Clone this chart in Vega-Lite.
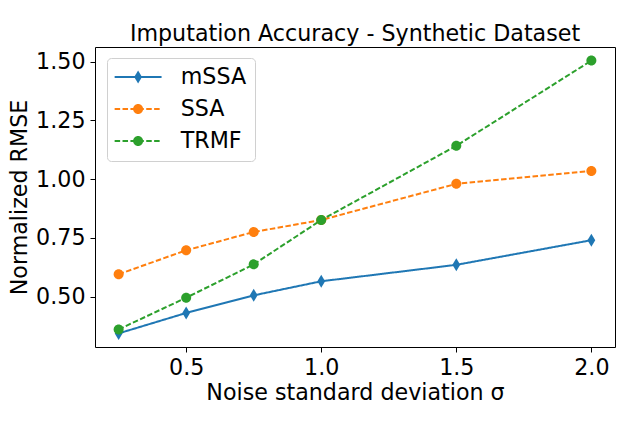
{
  "$schema": "https://vega.github.io/schema/vega-lite/v6.json",
  "autosize": {"type": "none"},
  "width": 520,
  "height": 300,
  "padding": {"left": 95, "top": 47, "right": 25, "bottom": 79},
  "background": "white",
  "config": {
    "font": "DejaVu Sans",
    "view": {"stroke": "black", "strokeWidth": 1},
    "axis": {"grid": false, "domain": false, "tickColor": "black", "tickSize": 5, "labelColor": "black", "titleColor": "black", "labelFontSize": 22.2, "titleFontSize": 22.2, "titleFontWeight": "normal", "labelPadding": 4}
  },
  "title": {"text": "Imputation Accuracy - Synthetic Dataset", "fontSize": 22.2, "fontWeight": "normal", "color": "black", "offset": 2},
  "data": {"values": [
    {"sigma": 0.25, "rmse": 0.343, "method": "mSSA", "marker": "thin diamond"},
    {"sigma": 0.5, "rmse": 0.43, "method": "mSSA", "marker": "thin diamond"},
    {"sigma": 0.75, "rmse": 0.505, "method": "mSSA", "marker": "thin diamond"},
    {"sigma": 1.0, "rmse": 0.565, "method": "mSSA", "marker": "thin diamond"},
    {"sigma": 1.5, "rmse": 0.635, "method": "mSSA", "marker": "thin diamond"},
    {"sigma": 2.0, "rmse": 0.74, "method": "mSSA", "marker": "thin diamond"},
    {"sigma": 0.25, "rmse": 0.595, "method": "SSA", "marker": "circle A"},
    {"sigma": 0.5, "rmse": 0.697, "method": "SSA", "marker": "circle A"},
    {"sigma": 0.75, "rmse": 0.775, "method": "SSA", "marker": "circle A"},
    {"sigma": 1.0, "rmse": 0.826, "method": "SSA", "marker": "circle A"},
    {"sigma": 1.5, "rmse": 0.98, "method": "SSA", "marker": "circle A"},
    {"sigma": 2.0, "rmse": 1.035, "method": "SSA", "marker": "circle A"},
    {"sigma": 0.25, "rmse": 0.36, "method": "TRMF", "marker": "circle B"},
    {"sigma": 0.5, "rmse": 0.495, "method": "TRMF", "marker": "circle B"},
    {"sigma": 0.75, "rmse": 0.637, "method": "TRMF", "marker": "circle B"},
    {"sigma": 1.0, "rmse": 0.826, "method": "TRMF", "marker": "circle B"},
    {"sigma": 1.5, "rmse": 1.142, "method": "TRMF", "marker": "circle B"},
    {"sigma": 2.0, "rmse": 1.505, "method": "TRMF", "marker": "circle B"}
  ]},
  "encoding": {
    "x": {"field": "sigma", "type": "quantitative", "scale": {"domain": [0.1625, 2.0875], "nice": false, "zero": false}, "axis": {"values": [0.5, 1.0, 1.5, 2.0], "format": ".1f", "title": "Noise standard deviation σ", "titlePadding": 3}},
    "y": {"field": "rmse", "type": "quantitative", "scale": {"domain": [0.285, 1.563], "nice": false, "zero": false}, "axis": {"values": [0.5, 0.75, 1.0, 1.25, 1.5], "format": ".2f", "title": "Normalized RMSE", "titlePadding": 4, "labelPadding": 5}}
  },
  "layer": [
    {"mark": {"type": "line", "strokeWidth": 2},
     "encoding": {
       "color": {"field": "method", "type": "nominal", "scale": {"domain": ["mSSA", "SSA", "TRMF"], "range": ["#1f77b4", "#ff7f0e", "#2ca02c"]}, "legend": {"title": null, "orient": "none", "legendX": 12, "legendY": 11, "zindex": 0, "labelFontSize": 22.2, "labelColor": "black", "symbolType": "M-2.47,0H2.47", "symbolSize": 361, "symbolStrokeWidth": 2, "symbolFillColor": "transparent", "symbolOffset": 12, "labelOffset": 31.5, "rowPadding": 9, "padding": 8, "fillColor": "white", "strokeColor": "#d0d0d0", "cornerRadius": 4}},
       "strokeDash": {"field": "method", "type": "nominal", "scale": {"domain": ["mSSA", "SSA", "TRMF"], "range": [[1, 0], [5.5, 2.4], [5.5, 2.4]]}, "legend": null}
     }},
    {"mark": {"type": "point", "filled": true, "opacity": 1, "size": 361, "strokeWidth": 0},
     "encoding": {
       "fill": {"field": "marker", "type": "nominal", "scale": {"domain": ["thin diamond", "circle A", "circle B"], "range": ["#1f77b4", "#ff7f0e", "#2ca02c"]}, "legend": {"title": null, "orient": "none", "legendX": 12, "legendY": 11, "zindex": 1, "labelFontSize": 22.2, "labelExpr": "''", "symbolSize": 361, "symbolStrokeWidth": 2, "symbolStrokeColor": "transparent", "symbolOffset": 12, "labelOffset": 31.5, "rowPadding": 9, "padding": 8, "fillColor": "transparent", "strokeColor": "transparent"}},
       "shape": {"field": "marker", "type": "nominal", "scale": {"domain": ["thin diamond", "circle A", "circle B"], "range": ["M0,-0.684L0.41,0L0,0.684L-0.41,0Z", "M-0.526,0A0.526,0.526 0 1,0 0.526,0A0.526,0.526 0 1,0 -0.526,0Z", "M-0.526,0A0.526,0.526 0 1,0 0.526,0A0.526,0.526 0 1,0 -0.526,0Z"]}, "legend": {"title": null, "orient": "none", "legendX": 12, "legendY": 11, "zindex": 1, "labelFontSize": 22.2, "labelExpr": "''", "symbolSize": 361, "symbolStrokeWidth": 2, "symbolStrokeColor": "transparent", "symbolOffset": 12, "labelOffset": 31.5, "rowPadding": 9, "padding": 8, "fillColor": "transparent", "strokeColor": "transparent"}}
     }}
  ]
}
